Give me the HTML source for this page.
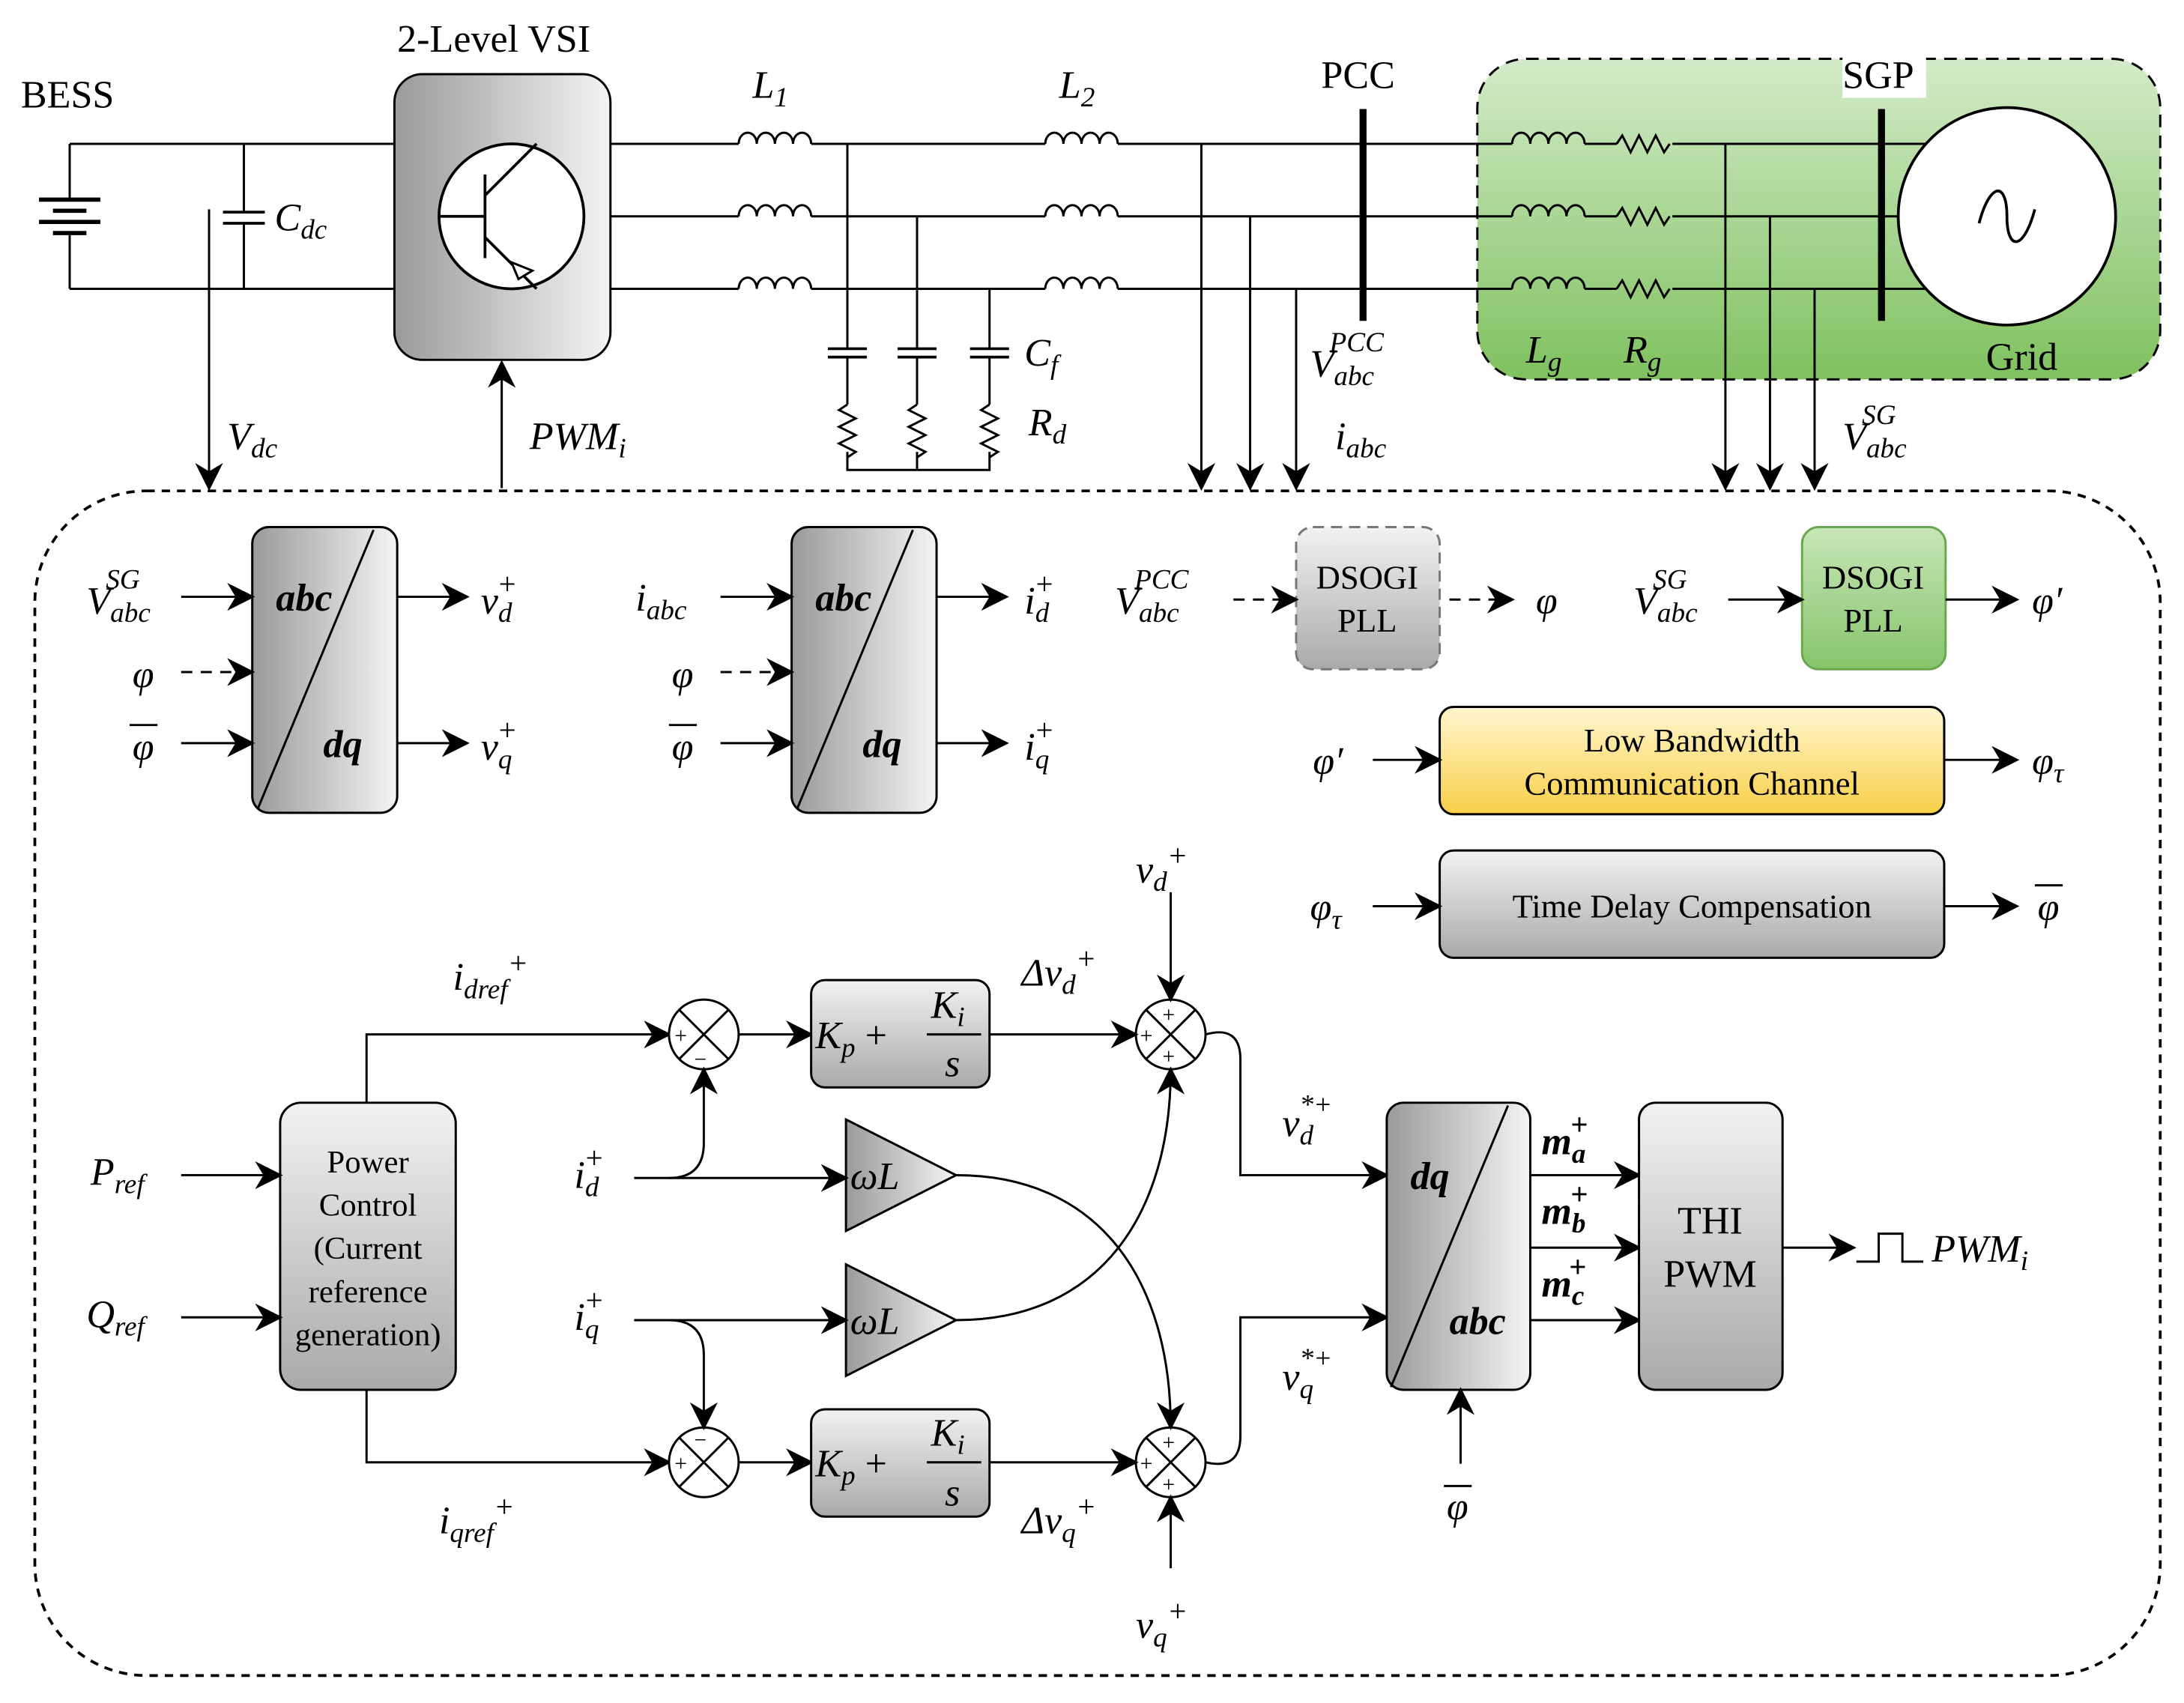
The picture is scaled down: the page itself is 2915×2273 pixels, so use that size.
<!DOCTYPE html>
<html><head><meta charset="utf-8"><style>
html,body{margin:0;padding:0;background:#fff}
svg{display:block}
text{font-family:"Liberation Serif",serif;fill:#000}
.m{font-style:italic}
</style></head><body>
<svg width="2915" height="2273" viewBox="0 0 1560 1216" xmlns="http://www.w3.org/2000/svg">
<defs>
<linearGradient id="gr" x1="0" x2="1" y1="0" y2="0"><stop offset="0" stop-color="#9a9a9a"/><stop offset="1" stop-color="#f4f4f4"/></linearGradient>
<linearGradient id="grv" x1="0" x2="0" y1="0" y2="1"><stop offset="0" stop-color="#f2f2f2"/><stop offset="1" stop-color="#a9a9a9"/></linearGradient>
<linearGradient id="gg" x1="0" x2="0" y1="0" y2="1"><stop offset="0" stop-color="#d4ebc9"/><stop offset="1" stop-color="#7fc15f"/></linearGradient>
<linearGradient id="gg2" x1="0" x2="0" y1="0" y2="1"><stop offset="0" stop-color="#c8e6b8"/><stop offset="1" stop-color="#86c46a"/></linearGradient>
<linearGradient id="gy" x1="0" x2="0" y1="0" y2="1"><stop offset="0" stop-color="#fff6cf"/><stop offset="1" stop-color="#f7cf47"/></linearGradient>
<marker id="a" viewBox="0 0 10 10" refX="9" refY="5" markerWidth="7" markerHeight="7" orient="auto" markerUnits="userSpaceOnUse"><path d="M0,0 L10,5 L0,10 L3,5z" fill="#000"/></marker>
<marker id="A" viewBox="0 0 10 10" refX="9" refY="5" markerWidth="20" markerHeight="20" orient="auto" markerUnits="userSpaceOnUse"><path d="M0,0 L10,5 L0,10 L3,5z" fill="#000"/></marker>
<g id="ind"><path d="M0,0 a6.5,8 0 0 1 13,0 a6.5,8 0 0 1 13,0 a6.5,8 0 0 1 13,0 a6.5,8 0 0 1 13,0" fill="none" stroke="#000" stroke-width="1.6"/></g>
<g id="resh"><path d="M0,0 l4,-6 l6,12 l6,-12 l6,12 l6,-12 l6,12 l4,-6" fill="none" stroke="#000" stroke-width="1.6"/></g>
<g id="resv"><path d="M0,0 l-6,4 l12,6 l-12,6 l12,6 l-12,6 l12,6 l-6,4" fill="none" stroke="#000" stroke-width="1.6"/></g>
<g id="capv"><path d="M-14,0 h28 M-14,6 h28" stroke="#000" stroke-width="2"/></g>
</defs>
<g transform="scale(0.9955)">
<g stroke="#000" stroke-width="1.6" fill="none">
<rect x="1060" y="42" width="490" height="230" rx="35" fill="url(#gg)" stroke-dasharray="9,6"/>
<rect x="25" y="352" width="1525" height="850" rx="80" stroke-dasharray="6,5" stroke-width="2"/>
<path d="M50,103 V143 M50,168 V207 M50,103 H283 M50,207 H283"/>
<path d="M28,143 H72 M38,151 H62 M28,159 H72 M38,167 H62" stroke-width="3"/>
<path d="M175,103 V152 M175,160 V207"/>
<path d="M160,152 H190 M160,160 H190" stroke-width="2"/>
<path d="M150,150 V350" marker-end="url(#A)"/>
<path d="M360,350 V260" marker-end="url(#A)"/>
<rect x="283" y="53" width="155" height="205" rx="20" fill="url(#gr)"/>
<circle cx="367" cy="155" r="52" fill="#fff" stroke-width="2"/>
<path d="M315,155 H348 M348,125 V185 M348,140 L385,103 M348,170 L385,207" stroke-width="2"/>
<path d="M367,188 L382,194 L372,200z" fill="#fff"/>
<path d="M438,103 H530 M582,103 H750 M802,103 H1085 M1137,103 H1160 M1200,103 H1410"/>
<path d="M438,155 H530 M582,155 H750 M802,155 H1085 M1137,155 H1160 M1200,155 H1362"/>
<path d="M438,207 H530 M582,207 H750 M802,207 H1085 M1137,207 H1160 M1200,207 H1410"/>
<use href="#ind" x="530" y="103"/><use href="#ind" x="530" y="155"/><use href="#ind" x="530" y="207"/>
<use href="#ind" x="750" y="103"/><use href="#ind" x="750" y="155"/><use href="#ind" x="750" y="207"/>
<use href="#ind" x="1085" y="103"/><use href="#ind" x="1085" y="155"/><use href="#ind" x="1085" y="207"/>
<use href="#resh" x="1160" y="103"/><use href="#resh" x="1160" y="155"/><use href="#resh" x="1160" y="207"/>
<path d="M608,103 V250 M608,256 V290 M658,155 V250 M658,256 V290 M710,207 V250 M710,256 V290"/>
<use href="#capv" x="608" y="250"/><use href="#capv" x="658" y="250"/><use href="#capv" x="710" y="250"/>
<use href="#resv" x="608" y="290"/><use href="#resv" x="658" y="290"/><use href="#resv" x="710" y="290"/>
<path d="M608,324 V337 H710 V324 M658,324 V337"/>
<path d="M862,103 V350" marker-end="url(#A)"/>
<path d="M897,155 V350" marker-end="url(#A)"/>
<path d="M930,207 V350" marker-end="url(#A)"/>
<path d="M1238,103 V350" marker-end="url(#A)"/>
<path d="M1270,155 V350" marker-end="url(#A)"/>
<path d="M1302,207 V350" marker-end="url(#A)"/>
<path d="M978,78 V230 M1350,78 V230" stroke-width="5"/>
<circle cx="1440" cy="155" r="78" fill="#fff" stroke-width="2"/>
<path d="M1420,160 C1428,130 1440,130 1440,155 C1440,180 1452,180 1460,150" stroke-width="2"/>
<rect x="181" y="378" width="104" height="205" rx="12" fill="url(#gr)"/>
<path d="M268,380 L185,580"/>
<rect x="568" y="378" width="104" height="205" rx="12" fill="url(#gr)"/>
<path d="M655,380 L572,580"/>
<path d="M130,428 H181" marker-end="url(#A)"/>
<path d="M130,482 H181" stroke-dasharray="8,6" marker-end="url(#A)"/>
<path d="M130,533 H181" marker-end="url(#A)"/>
<path d="M285,428 H335" marker-end="url(#A)"/>
<path d="M285,533 H335" marker-end="url(#A)"/>
<path d="M517,428 H568" marker-end="url(#A)"/>
<path d="M517,482 H568" stroke-dasharray="8,6" marker-end="url(#A)"/>
<path d="M517,533 H568" marker-end="url(#A)"/>
<path d="M672,428 H722" marker-end="url(#A)"/>
<path d="M672,533 H722" marker-end="url(#A)"/>
<rect x="930" y="378" width="103" height="102" rx="12" fill="url(#grv)" stroke="#777" stroke-dasharray="8,5"/>
<path d="M885,430 H930" stroke-dasharray="8,6" marker-end="url(#A)"/>
<path d="M1040,430 H1085" stroke-dasharray="8,6" marker-end="url(#A)"/>
<rect x="1293" y="378" width="103" height="102" rx="12" fill="url(#gg2)" stroke="#6aa84f"/>
<path d="M1240,430 H1293" marker-end="url(#A)"/>
<path d="M1396,430 H1447" marker-end="url(#A)"/>
<rect x="1033" y="507" width="362" height="77" rx="10" fill="url(#gy)"/>
<path d="M985,545 H1033" marker-end="url(#A)"/>
<path d="M1395,545 H1447" marker-end="url(#A)"/>
<rect x="1033" y="610" width="362" height="77" rx="10" fill="url(#grv)"/>
<path d="M985,650 H1033" marker-end="url(#A)"/>
<path d="M1395,650 H1447" marker-end="url(#A)"/>
<rect x="201" y="791" width="126" height="206" rx="15" fill="url(#grv)"/>
<path d="M130,843 H201" marker-end="url(#A)"/>
<path d="M130,945 H201" marker-end="url(#A)"/>
<path d="M263,791 V742 H480" marker-end="url(#A)"/>
<path d="M263,997 V1049 H480" marker-end="url(#A)"/>
<circle cx="505" cy="742" r="25" fill="#fff"/><path d="M487,724 L523,760 M523,724 L487,760"/>
<circle cx="505" cy="1049" r="25" fill="#fff"/><path d="M487,1031 L523,1067 M523,1031 L487,1067"/>
<circle cx="840" cy="742" r="25" fill="#fff"/><path d="M822,724 L858,760 M858,724 L822,760"/>
<circle cx="840" cy="1049" r="25" fill="#fff"/><path d="M822,1031 L858,1067 M858,1031 L822,1067"/>
<path d="M530,742 H582" marker-end="url(#A)"/>
<path d="M530,1049 H582" marker-end="url(#A)"/>
<rect x="582" y="703" width="128" height="77" rx="10" fill="url(#grv)"/>
<rect x="582" y="1011" width="128" height="77" rx="10" fill="url(#grv)"/>
<path d="M710,742 H815" marker-end="url(#A)"/>
<path d="M710,1049 H815" marker-end="url(#A)"/>
<path d="M607,803 L607,883 L686,843z" fill="url(#gr)"/>
<path d="M607,907 L607,987 L686,947z" fill="url(#gr)"/>
<path d="M455,845 H607" marker-end="url(#A)"/>
<path d="M480,845 Q505,845 505,820 V767" marker-end="url(#A)"/>
<path d="M455,947 H607" marker-end="url(#A)"/>
<path d="M480,947 Q505,947 505,972 V1024" marker-end="url(#A)"/>
<path d="M686,843 C790,843 840,920 840,1024" marker-end="url(#A)"/>
<path d="M686,947 C790,947 840,870 840,767" marker-end="url(#A)"/>
<path d="M840,640 V717" marker-end="url(#A)"/>
<path d="M840,1125 V1074" marker-end="url(#A)"/>
<path d="M865,742 Q890,735 890,760 V843 H995" marker-end="url(#A)"/>
<path d="M865,1049 Q890,1055 890,1030 V945 H995" marker-end="url(#A)"/>
<rect x="995" y="791" width="103" height="206" rx="12" fill="url(#gr)"/>
<path d="M1082,793 L998,995"/>
<path d="M1048,1050 V997" marker-end="url(#A)"/>
<path d="M1098,843 H1176" marker-end="url(#A)"/>
<path d="M1098,895 H1176" marker-end="url(#A)"/>
<path d="M1098,947 H1176" marker-end="url(#A)"/>
<rect x="1176" y="791" width="103" height="206" rx="12" fill="url(#grv)"/>
<path d="M1279,895 H1330" marker-end="url(#A)"/>
<path d="M1332,905 H1348 V885 H1365 V905 H1380"/>
</g>
<g font-size="28">
<text x="15" y="77">BESS</text>
<text x="285" y="37">2-Level VSI</text>
<text x="948" y="63">PCC</text>
<rect x="1322" y="38" width="60" height="32" fill="#fff"/>
<text x="1322" y="63">SGP</text>
<text x="1425" y="265">Grid</text>
<text class="m" x="540" y="70">L<tspan font-size="20" dy="6">1</tspan></text>
<text class="m" x="760" y="70">L<tspan font-size="20" dy="6">2</tspan></text>
<text class="m" x="197" y="165">C<tspan font-size="20" dy="6">dc</tspan></text>
<text class="m" x="735" y="262">C<tspan font-size="20" dy="6">f</tspan></text>
<text class="m" x="738" y="312">R<tspan font-size="20" dy="6">d</tspan></text>
<text class="m" x="1095" y="260">L<tspan font-size="20" dy="6">g</tspan></text>
<text class="m" x="1165" y="260">R<tspan font-size="20" dy="6">g</tspan></text>
<text class="m" x="163" y="322">V<tspan font-size="20" dy="6">dc</tspan></text>
<text class="m" x="380" y="322">PWM<tspan font-size="20" dy="6">i</tspan></text>
<text class="m" x="940" y="270">V<tspan font-size="20" dy="6">abc</tspan><tspan font-size="20" dx="-32" dy="-24">PCC</tspan></text>
<text class="m" x="958" y="322">i<tspan font-size="20" dy="6">abc</tspan></text>
<text class="m" x="1322" y="322">V<tspan font-size="20" dy="6">abc</tspan><tspan font-size="20" dx="-32" dy="-24">SG</tspan></text>
<text class="m" x="62" y="440">V<tspan font-size="20" dy="6">abc</tspan><tspan font-size="20" dx="-32" dy="-24">SG</tspan></text>
<text class="m" x="95" y="493">φ</text>
<text class="m" x="95" y="545">φ</text><path d="M93,520 H113" stroke="#000" stroke-width="1.6"/>
<text class="m" x="198" y="438" font-weight="bold">abc</text>
<text class="m" x="232" y="543" font-weight="bold">dq</text>
<text class="m" x="345" y="440">v<tspan font-size="20" dy="6">d</tspan><tspan font-size="22" dx="-11" dy="-20">+</tspan></text>
<text class="m" x="345" y="545">v<tspan font-size="20" dy="6">q</tspan><tspan font-size="22" dx="-11" dy="-20">+</tspan></text>
<text class="m" x="456" y="438">i<tspan font-size="20" dy="6">abc</tspan></text>
<text class="m" x="482" y="493">φ</text>
<text class="m" x="482" y="545">φ</text><path d="M480,520 H500" stroke="#000" stroke-width="1.6"/>
<text class="m" x="585" y="438" font-weight="bold">abc</text>
<text class="m" x="619" y="543" font-weight="bold">dq</text>
<text class="m" x="735" y="440">i<tspan font-size="20" dy="6">d</tspan><tspan font-size="22" dx="-11" dy="-20">+</tspan></text>
<text class="m" x="735" y="545">i<tspan font-size="20" dy="6">q</tspan><tspan font-size="22" dx="-11" dy="-20">+</tspan></text>
<text class="m" x="800" y="440">V<tspan font-size="20" dy="6">abc</tspan><tspan font-size="20" dx="-32" dy="-24">PCC</tspan></text>
<text x="981" y="422" font-size="24" text-anchor="middle">DSOGI</text>
<text x="981" y="453" font-size="24" text-anchor="middle">PLL</text>
<text class="m" x="1102" y="440">φ</text>
<text class="m" x="1172" y="440">V<tspan font-size="20" dy="6">abc</tspan><tspan font-size="20" dx="-32" dy="-24">SG</tspan></text>
<text x="1344" y="422" font-size="24" text-anchor="middle">DSOGI</text>
<text x="1344" y="453" font-size="24" text-anchor="middle">PLL</text>
<text class="m" x="1458" y="440">φ′</text>
<text class="m" x="942" y="555">φ′</text>
<text x="1214" y="539" font-size="24" text-anchor="middle">Low Bandwidth</text>
<text x="1214" y="570" font-size="24" text-anchor="middle">Communication Channel</text>
<text class="m" x="1458" y="555">φ<tspan font-size="20" dy="6">τ</tspan></text>
<text class="m" x="940" y="660">φ<tspan font-size="20" dy="6">τ</tspan></text>
<text x="1214" y="658" font-size="24" text-anchor="middle">Time Delay Compensation</text>
<text class="m" x="1462" y="660">φ</text><path d="M1460,635 H1480" stroke="#000" stroke-width="1.6"/>
<text class="m" x="65" y="850">P<tspan font-size="20" dy="6">ref</tspan></text>
<text class="m" x="62" y="952">Q<tspan font-size="20" dy="6">ref</tspan></text>
<g font-size="23" text-anchor="middle"><text x="264" y="841">Power</text><text x="264" y="872">Control</text><text x="264" y="903">(Current</text><text x="264" y="934">reference</text><text x="264" y="965">generation)</text></g>
<text class="m" x="325" y="710">i<tspan font-size="20" dy="6">dref</tspan><tspan font-size="22" dy="-18">+</tspan></text>
<text class="m" x="315" y="1100">i<tspan font-size="20" dy="6">qref</tspan><tspan font-size="22" dy="-18">+</tspan></text>
<text class="m" x="412" y="852">i<tspan font-size="20" dy="6">d</tspan><tspan font-size="22" dx="-11" dy="-20">+</tspan></text>
<text class="m" x="412" y="954">i<tspan font-size="20" dy="6">q</tspan><tspan font-size="22" dx="-11" dy="-20">+</tspan></text>
<text class="m" x="610" y="853">ωL</text>
<text class="m" x="610" y="957">ωL</text>
<text class="m" x="585" y="752">K<tspan font-size="20" dy="6">p</tspan><tspan dy="-6" font-style="normal"> + </tspan></text>
<text class="m" x="668" y="730">K<tspan font-size="20" dy="6">i</tspan></text><path d="M665,742 H704" stroke="#000" stroke-width="1.6"/><text class="m" x="678" y="772">s</text>
<text class="m" x="585" y="1059">K<tspan font-size="20" dy="6">p</tspan><tspan dy="-6" font-style="normal"> + </tspan></text>
<text class="m" x="668" y="1037">K<tspan font-size="20" dy="6">i</tspan></text><path d="M665,1049 H704" stroke="#000" stroke-width="1.6"/><text class="m" x="678" y="1080">s</text>
<text class="m" x="733" y="707">Δv<tspan font-size="20" dy="6">d</tspan><tspan font-size="22" dy="-18">+</tspan></text>
<text class="m" x="733" y="1100">Δv<tspan font-size="20" dy="6">q</tspan><tspan font-size="22" dy="-18">+</tspan></text>
<text class="m" x="815" y="633">v<tspan font-size="20" dy="6">d</tspan><tspan font-size="22" dy="-18">+</tspan></text>
<text class="m" x="815" y="1175">v<tspan font-size="20" dy="6">q</tspan><tspan font-size="22" dy="-18">+</tspan></text>
<text class="m" x="920" y="815">v<tspan font-size="20" dy="6">d</tspan><tspan font-size="20" dx="-10" dy="-22">*+</tspan></text>
<text class="m" x="920" y="997">v<tspan font-size="20" dy="6">q</tspan><tspan font-size="20" dx="-10" dy="-22">*+</tspan></text>
<text class="m" x="1012" y="853" font-weight="bold">dq</text>
<text class="m" x="1040" y="957" font-weight="bold">abc</text>
<text class="m" x="1038" y="1090">φ</text><path d="M1036,1066 H1056" stroke="#000" stroke-width="1.6"/>
<text class="m" x="1106" y="828" font-weight="bold">m<tspan font-size="20" dy="6">a</tspan><tspan font-size="22" dx="-11" dy="-20">+</tspan></text>
<text class="m" x="1106" y="878" font-weight="bold">m<tspan font-size="20" dy="6">b</tspan><tspan font-size="22" dx="-11" dy="-20">+</tspan></text>
<text class="m" x="1106" y="930" font-weight="bold">m<tspan font-size="20" dy="6">c</tspan><tspan font-size="22" dx="-11" dy="-20">+</tspan></text>
<text x="1227" y="885" text-anchor="middle">THI</text>
<text x="1227" y="923" text-anchor="middle">PWM</text>
<text class="m" x="1386" y="905">PWM<tspan font-size="20" dy="6">i</tspan></text>
</g>
<g font-size="16">
<text x="484" y="748">+</text><text x="498" y="765">−</text>
<text x="484" y="1055">+</text><text x="498" y="1038">−</text>
<text x="818" y="748">+</text><text x="834" y="733">+</text><text x="834" y="763">+</text>
<text x="818" y="1055">+</text><text x="834" y="1040">+</text><text x="834" y="1070">+</text>
</g>
</g>
</svg>
</body></html>
